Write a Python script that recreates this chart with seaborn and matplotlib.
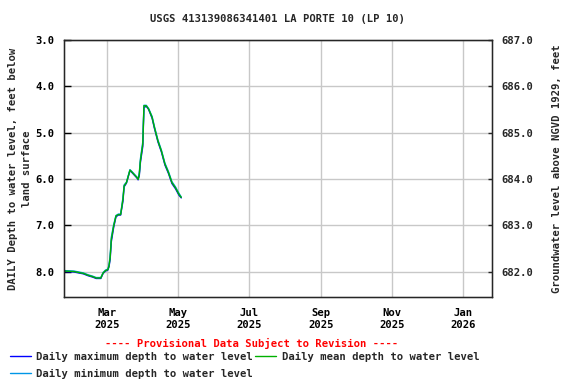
import matplotlib
matplotlib.use("Agg")
import matplotlib.pyplot as plt
import matplotlib.dates as mdates
import seaborn as sns
import pandas as pd
import numpy as np

dates = ["2025-01-24", "2025-02-01", "2025-02-05", "2025-02-09", "2025-02-13",
         "2025-02-17", "2025-02-20", "2025-02-24", "2025-02-26", "2025-02-28",
         "2025-03-02", "2025-03-03", "2025-03-04", "2025-03-05", "2025-03-07",
         "2025-03-09", "2025-03-11", "2025-03-13", "2025-03-15", "2025-03-16",
         "2025-03-18", "2025-03-21", "2025-03-23", "2025-03-27", "2025-03-28",
         "2025-03-29", "2025-03-30", "2025-04-01", "2025-04-02", "2025-04-04",
         "2025-04-06", "2025-04-09", "2025-04-11", "2025-04-14", "2025-04-17",
         "2025-04-20", "2025-04-23", "2025-04-26", "2025-04-29", "2025-05-02",
         "2025-05-04"]
mean_depth = [7.99, 8.00, 8.02, 8.04, 8.08,
              8.11, 8.14, 8.14, 8.03, 7.98,
              7.96, 7.88, 7.70, 7.31, 7.02,
              6.80, 6.77, 6.77, 6.44, 6.15,
              6.08, 5.81, 5.86, 5.97, 6.01,
              5.90, 5.60, 5.25, 4.42, 4.42,
              4.49, 4.67, 4.89, 5.18, 5.40,
              5.68, 5.86, 6.08, 6.19, 6.33,
              6.40]
max_depth = [8.00, 8.01, 8.03, 8.05, 8.09,
             8.12, 8.15, 8.15, 8.04, 7.99,
             7.97, 7.90, 7.74, 7.36, 7.05,
             6.82, 6.78, 6.78, 6.48, 6.17,
             6.09, 5.82, 5.87, 5.98, 6.02,
             5.93, 5.64, 5.30, 4.46, 4.43,
             4.50, 4.69, 4.91, 5.20, 5.42,
             5.70, 5.88, 6.10, 6.21, 6.35,
             6.41]
min_depth = [7.98, 7.99, 8.01, 8.03, 8.07,
             8.10, 8.13, 8.13, 8.02, 7.97,
             7.95, 7.86, 7.66, 7.26, 6.99,
             6.79, 6.76, 6.76, 6.40, 6.13,
             6.07, 5.80, 5.85, 5.96, 6.00,
             5.87, 5.56, 5.20, 4.41, 4.41,
             4.48, 4.65, 4.87, 5.16, 5.38,
             5.66, 5.84, 6.06, 6.17, 6.31,
             6.39]

datum = 690.0

df = pd.DataFrame({"date": pd.to_datetime(dates), "max": max_depth,
                   "min": min_depth, "mean": mean_depth})

sns.set_style("white")
plt.rcParams["font.family"] = ["DejaVu Sans Mono"]
plt.rcParams["font.weight"] = "bold"

fig = plt.figure(figsize=(5.76, 3.84), dpi=100)
ax = fig.add_axes([64/576, 1 - 297/384, (492 - 64)/576, (297 - 40)/384])

fs = 7.6
c_max, c_min, c_mean = "#0000ff", "#0096e6", "#00b000"
sns.lineplot(data=df, x="date", y="max", ax=ax, color=c_max, lw=1.0,
             label="Daily maximum depth to water level")
sns.lineplot(data=df, x="date", y="min", ax=ax, color=c_min, lw=1.0,
             label="Daily minimum depth to water level")
sns.lineplot(data=df, x="date", y="mean", ax=ax, color=c_mean, lw=1.0,
             label="Daily mean depth to water level")

ax.set_xlim(pd.Timestamp("2025-01-23 10:00"), pd.Timestamp("2026-01-25 14:00"))
ax.set_ylim(8.55, 3.0)
ax.set_yticks([3, 4, 5, 6, 7, 8])
ax.yaxis.set_major_formatter(matplotlib.ticker.FormatStrFormatter("%.1f"))
ax.xaxis.set_major_locator(mdates.MonthLocator(bymonth=[1, 3, 5, 7, 9, 11]))
ax.xaxis.set_major_formatter(mdates.DateFormatter("%b\n%Y"))
ax.grid(True, color="#c8c8c8", lw=1.0)
ax.set_axisbelow(True)
for s in ax.spines.values():
    s.set_color("black")
    s.set_linewidth(1.0)
ax.tick_params(axis="both", direction="in", length=5, width=1, labelsize=fs,
               colors="black", pad=7)
ax.tick_params(axis="x", length=0, pad=8)
ax.set_xlabel("")
ax.set_ylabel("DAILY Depth to water level, feet below\nland surface",
              fontsize=fs, fontweight="bold", labelpad=2, linespacing=1.5)

ax2 = ax.twinx()
ax2.set_ylim(datum - 8.55, datum - 3.0)
ax2.set_yticks([682, 683, 684, 685, 686, 687])
ax2.yaxis.set_major_formatter(matplotlib.ticker.FormatStrFormatter("%.1f"))
ax2.tick_params(axis="y", direction="in", length=3, width=1, labelsize=fs, pad=7)
ax2.set_ylabel("Groundwater level above NGVD 1929, feet", fontsize=fs,
               fontweight="bold", labelpad=13)

for t in ax.get_xticklabels() + ax.get_yticklabels() + ax2.get_yticklabels():
    t.set_fontweight("bold")

fig.text(0.482, 1 - 19/384, "USGS 413139086341401 LA PORTE 10 (LP 10)",
         ha="center", va="center", fontsize=fs, fontweight="bold")
fig.text(252/576, 1 - 343/384, "---- Provisional Data Subject to Revision ----",
         ha="center", va="center", fontsize=fs, fontweight="bold", color="red")

handles, labels = ax.get_legend_handles_labels()
ax.get_legend().remove()
fig.legend(handles, labels, ncol=2, loc="upper left",
           bbox_to_anchor=(10/576, 1 - 352/384), frameon=False,
           prop={"size": fs, "weight": "bold"}, handlelength=2.0,
           handletextpad=0.5, columnspacing=0.2, labelspacing=0.65,
           borderaxespad=0, borderpad=0)

fig.savefig("out.png", dpi=100)
